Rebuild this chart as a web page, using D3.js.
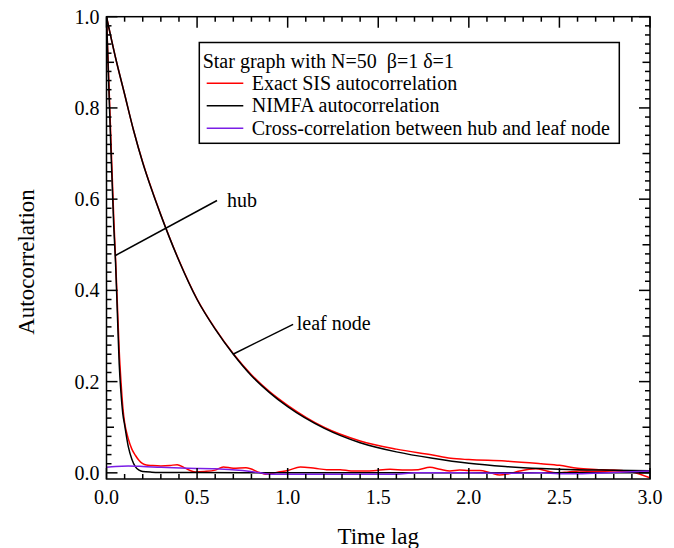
<!DOCTYPE html>
<html>
<head>
<meta charset="utf-8">
<script src="https://cdn.jsdelivr.net/npm/d3@7"></script>
<style>
  body { margin: 0; background: #fff; }
  text { font-family: "Liberation Serif", "Times New Roman", serif; fill: #000; }
</style>
</head>
<body>
<div id="chart"></div>
<script>
// svg dimensions
var svgWidth = 674;
var svgHeight = 548;
var margin = {top: 16.7, right: 24, bottom: 69, left: 106.5};
var width = svgWidth - margin.left - margin.right;
var height = svgHeight - margin.top - margin.bottom;

// leaf node autocorrelation (NIMFA, black)
var leafT = [0, 0.05, 0.1, 0.15, 0.2, 0.25, 0.3, 0.4, 0.5, 0.6, 0.7, 0.8, 0.9, 1.0, 1.2, 1.4, 1.6, 1.8, 2.0, 2.2, 2.4, 2.6, 2.8, 3.0];
var leafNimfa = [1.0, 0.91, 0.83, 0.75, 0.68, 0.62, 0.565, 0.465, 0.38, 0.315, 0.26, 0.213, 0.176, 0.145, 0.098, 0.066, 0.046, 0.032, 0.021, 0.014, 0.0095, 0.0068, 0.0057, 0.0045];
// leaf node autocorrelation (exact SIS, red)
var leafExactT = [0, 0.05, 0.1, 0.15, 0.2, 0.25, 0.3, 0.4, 0.5, 0.6, 0.7, 0.8, 0.9, 1.0, 1.2, 1.4, 1.6, 1.8, 1.9, 2.0, 2.2, 2.4, 2.5, 2.6, 2.7, 2.8, 2.9, 3.0];
var leafExact = [1.0, 0.91, 0.83, 0.75, 0.681, 0.621, 0.566, 0.466, 0.381, 0.316, 0.261, 0.215, 0.178, 0.148, 0.1, 0.07, 0.052, 0.039, 0.032, 0.029, 0.026, 0.02, 0.0165, 0.01, 0.0075, 0.006, 0.002, -0.011];
// hub autocorrelation (NIMFA, black)
var hubT = [0, 0.02, 0.04, 0.05, 0.06, 0.07, 0.08, 0.09, 0.1, 0.12, 0.14, 0.16, 0.18, 0.2, 0.25, 0.3, 0.5, 1.0, 2.0, 3.0];
var hubNimfa = [1.0, 0.76, 0.54, 0.46, 0.35, 0.24, 0.175, 0.13, 0.105, 0.058, 0.03, 0.013, 0.006, 0.003, 0.0015, 0.001, 0.0005, 0.0003, 0.0001, 0.0];
// hub autocorrelation (exact SIS, red)
var hubExactT = [0, 0.02, 0.04, 0.05, 0.06, 0.07, 0.08, 0.09, 0.1, 0.11, 0.12, 0.14, 0.16, 0.18, 0.2, 0.22, 0.25, 0.3, 0.35, 0.39, 0.43, 0.49, 0.54, 0.6, 0.645, 0.7, 0.77, 0.85, 0.88, 0.95, 1.0, 1.07, 1.15, 1.215, 1.29, 1.35, 1.45, 1.565, 1.65, 1.72, 1.785, 1.84, 1.896, 1.95, 2.0, 2.06, 2.12, 2.17, 2.22, 2.28, 2.37, 2.43, 2.48, 2.55, 2.61, 2.7, 2.8, 2.9, 3.0];
var hubExact = [1.0, 0.78, 0.56, 0.47, 0.37, 0.27, 0.2, 0.145, 0.11, 0.09, 0.075, 0.052, 0.038, 0.027, 0.02, 0.017, 0.016, 0.015, 0.016, 0.018, 0.011, 0.002, 0.003, 0.006, 0.013, 0.01, 0.011, 0.0, -0.003, 0.002, 0.005, 0.013, 0.01, 0.007, 0.007, 0.004, 0.004, 0.008, 0.006, 0.007, 0.012, 0.008, 0.004, 0.006, 0.005, 0.005, 0.0, -0.005, -0.002, 0.004, 0.009, 0.004, 0.0, 0.002, 0.004, 0.003, 0.004, 0.003, 0.002];
// cross-correlation between hub and leaf node (purple)
var crossT = [0, 0.05, 0.12, 0.2, 0.3, 0.45, 0.6, 0.75, 0.85, 0.9, 1.0, 1.2, 1.4, 1.6, 1.7, 2.0, 2.2, 2.4, 2.5, 2.6, 2.8, 3.0];
var crossCorr = [0.012, 0.014, 0.015, 0.014, 0.012, 0.01, 0.009, 0.005, 0.0, -0.003, -0.003, -0.003, -0.003, -0.003, 0.0, 0.0, -0.001, 0.0, -0.002, -0.002, 0.001, 0.004];

var legendTitle = "Star graph with N=50  \u03b2=1 \u03b4=1";
var legendNames = ["Exact SIS autocorrelation", "NIMFA autocorrelation", "Cross-correlation between hub and leaf node"];
var legendColors = ["#ff0000", "#000000", "#7a1ee6"];
var xTicks = [0, 0.5, 1.0, 1.5, 2.0, 2.5, 3.0];
var yTicks = [0, 0.2, 0.4, 0.6, 0.8, 1.0];

var svg = d3.select("#chart")
  .append("svg")
  .attr("width", svgWidth)
  .attr("height", svgHeight);

var chartGroup = svg.append("g")
  .attr("transform", `translate(${margin.left}, ${margin.top})`);

var xScale = d3.scaleLinear().domain([0, 3]).range([0, width]);
var yScale = d3.scaleLinear().domain([-0.0135, 1.0]).range([height, 0]);

// curves, clipped to the frame
chartGroup.append("clipPath").attr("id", "clip")
  .append("rect").attr("width", width).attr("height", height);

var line = d3.line()
  .x(d => xScale(d[0]))
  .y(d => yScale(d[1]))
  .curve(d3.curveMonotoneX);

function pairs(ts, vs) {
  return ts.map((t, i) => [t, vs[i]]);
}

var curves = [
  {data: pairs(leafExactT, leafExact), color: legendColors[0]},
  {data: pairs(hubExactT, hubExact), color: legendColors[0]},
  {data: pairs(leafT, leafNimfa), color: legendColors[1]},
  {data: pairs(hubT, hubNimfa), color: legendColors[1]},
  {data: pairs(crossT, crossCorr), color: legendColors[2]}
];

chartGroup.append("g").attr("clip-path", "url(#clip)")
  .selectAll("path")
  .data(curves)
  .enter()
  .append("path")
  .attr("d", d => line(d.data))
  .attr("fill", "none")
  .attr("stroke", d => d.color)
  .attr("stroke-width", 1.5);

// axes with inward ticks on all four sides
function drawTicks(values, len, horizontal) {
  values.forEach(function(v) {
    if (horizontal) {
      var x = xScale(v);
      chartGroup.append("line").attr("x1", x).attr("x2", x).attr("y1", height).attr("y2", height - len).attr("stroke", "#000").attr("stroke-width", 1.5);
      chartGroup.append("line").attr("x1", x).attr("x2", x).attr("y1", 0).attr("y2", len).attr("stroke", "#000").attr("stroke-width", 1.5);
    } else {
      var y = yScale(v);
      chartGroup.append("line").attr("x1", 0).attr("x2", len).attr("y1", y).attr("y2", y).attr("stroke", "#000").attr("stroke-width", 1.5);
      chartGroup.append("line").attr("x1", width).attr("x2", width - len).attr("y1", y).attr("y2", y).attr("stroke", "#000").attr("stroke-width", 1.5);
    }
  });
}
drawTicks(d3.range(0, 31).map(i => i / 10).filter(v => Math.round(v * 10) % 5 !== 0), 5, true);
drawTicks(xTicks, 11, true);
drawTicks(d3.range(0, 51).map(i => i / 50).filter(v => Math.round(v * 50) % 5 !== 0), 5, false);
drawTicks([0.1, 0.3, 0.5, 0.7, 0.9], 7.5, false);
drawTicks(yTicks, 11, false);

chartGroup.append("rect")
  .attr("width", width)
  .attr("height", height)
  .attr("fill", "none")
  .attr("stroke", "#000")
  .attr("stroke-width", 1.5);

// tick labels
chartGroup.selectAll(".xlab")
  .data(xTicks)
  .enter()
  .append("text")
  .attr("x", d => xScale(d))
  .attr("y", height + 25)
  .attr("text-anchor", "middle")
  .attr("font-size", 20)
  .text(d => d.toFixed(1));

chartGroup.selectAll(".ylab")
  .data(yTicks)
  .enter()
  .append("text")
  .attr("x", -7)
  .attr("y", d => yScale(d) + 7)
  .attr("text-anchor", "end")
  .attr("font-size", 20)
  .text(d => d.toFixed(1));

// axis titles
svg.append("text")
  .attr("transform", "translate(" + (margin.left + width / 2) + ", 544)")
  .attr("text-anchor", "middle")
  .attr("font-size", 23)
  .text("Time lag");

svg.append("text")
  .attr("transform", "translate(34, 262) rotate(-90)")
  .attr("text-anchor", "middle")
  .attr("font-size", 23)
  .text("Autocorrelation");

// annotations
chartGroup.append("line")
  .attr("x1", xScale(0.047)).attr("y1", yScale(0.476))
  .attr("x2", xScale(0.610)).attr("y2", yScale(0.597))
  .attr("stroke", "#000").attr("stroke-width", 1.5);
chartGroup.append("text")
  .attr("x", xScale(0.665)).attr("y", yScale(0.597) + 6)
  .attr("font-size", 20)
  .text("hub");

chartGroup.append("line")
  .attr("x1", xScale(0.698)).attr("y1", yScale(0.26))
  .attr("x2", xScale(1.03)).attr("y2", yScale(0.3256))
  .attr("stroke", "#000").attr("stroke-width", 1.5);
chartGroup.append("text")
  .attr("x", xScale(1.05)).attr("y", yScale(0.326) + 6)
  .attr("font-size", 20)
  .text("leaf node");

// legend
var legend = svg.append("g").attr("transform", "translate(199.3, 42.5)");
legend.append("rect")
  .attr("width", 420)
  .attr("height", 100.8)
  .attr("fill", "#fff")
  .attr("stroke", "#000")
  .attr("stroke-width", 1.5);
legend.append("text")
  .attr("x", 3.4)
  .attr("y", 25.5)
  .attr("font-size", 20)
  .style("white-space", "pre")
  .text(legendTitle);
var rows = legend.selectAll(".row")
  .data(legendNames)
  .enter()
  .append("g")
  .attr("transform", (d, i) => `translate(0, ${40.8 + i * 22.5})`);
rows.append("line")
  .attr("x1", 7.4).attr("x2", 44)
  .attr("y1", 0).attr("y2", 0)
  .attr("stroke", (d, i) => legendColors[i])
  .attr("stroke-width", 1.5);
rows.append("text")
  .attr("x", 52.4)
  .attr("y", 6.5)
  .attr("font-size", 20)
  .text(d => d);
</script>
</body>
</html>
